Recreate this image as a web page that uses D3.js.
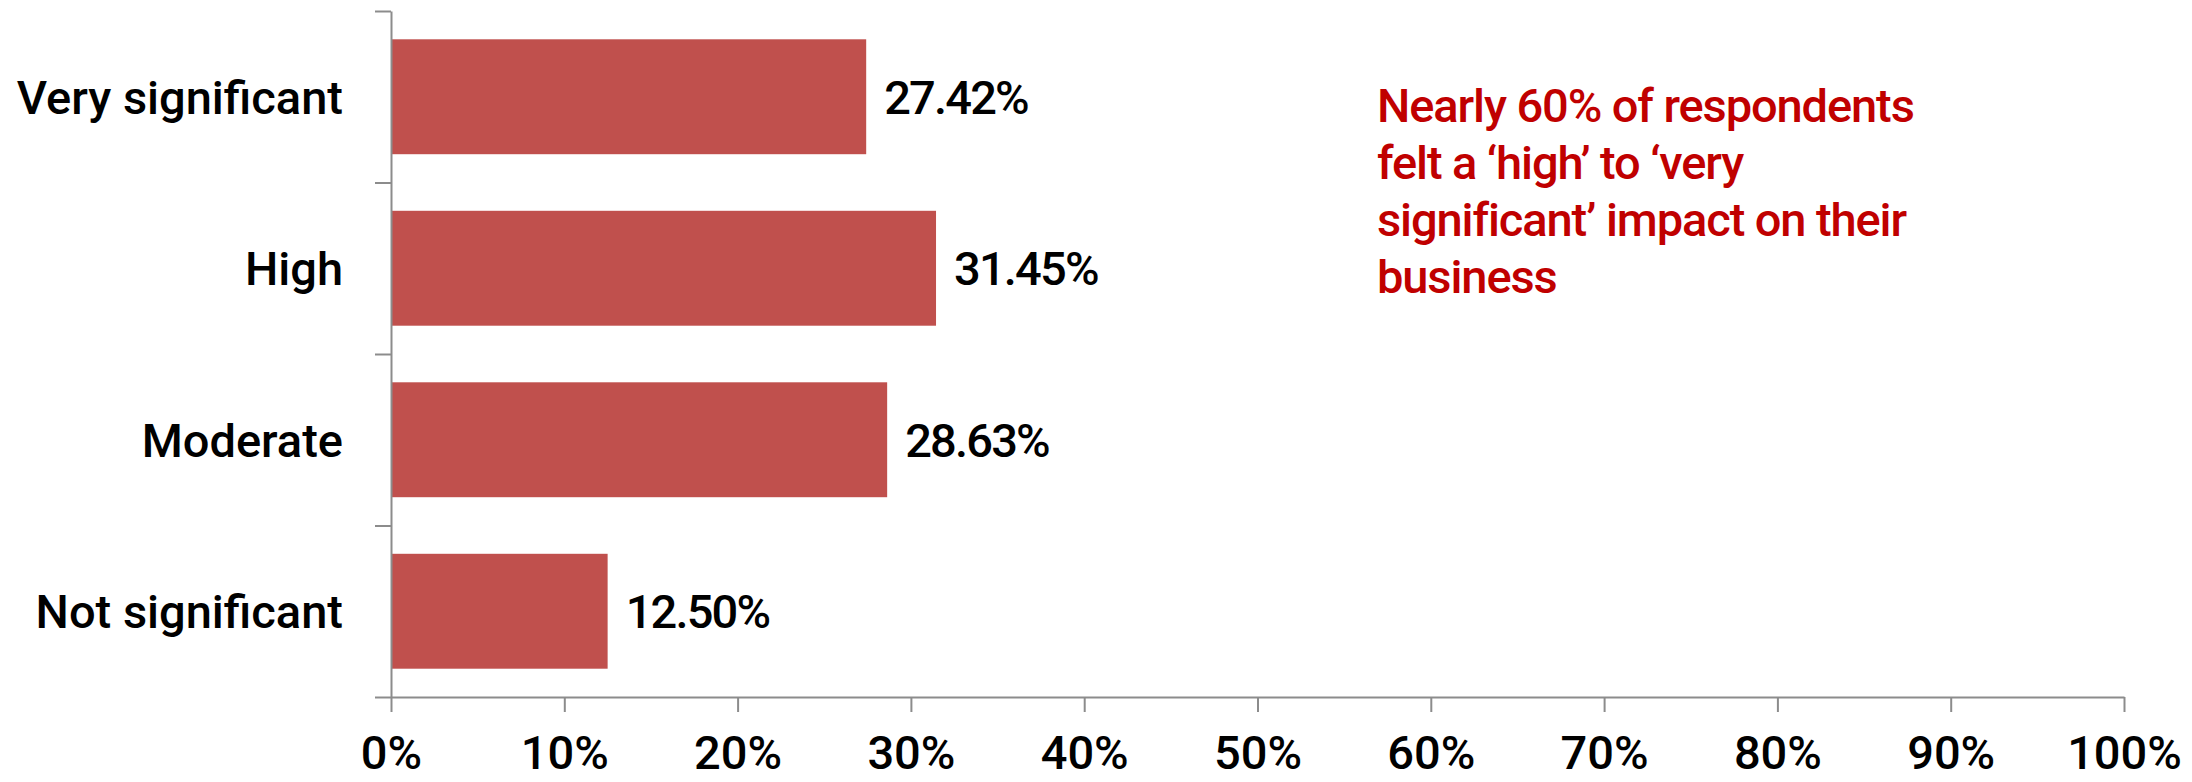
<!DOCTYPE html>
<html>
<head>
<meta charset="utf-8">
<script src="https://cdn.jsdelivr.net/npm/d3@7"></script>
<style>
  html, body { margin: 0; padding: 0; background: #ffffff; }
  svg { display: block; }
  .lbl { font-family: Roboto, "Liberation Sans", sans-serif; font-weight: 500; }
</style>
</head>
<body>
<svg id="chart" width="2192" height="782"></svg>
<script>
// Impact ratings and the share of respondents choosing each one (%)
const categories = ["Very significant", "High", "Moderate", "Not significant"];
const shares = [27.42, 31.45, 28.63, 12.50];
const xTickValues = [0, 10, 20, 30, 40, 50, 60, 70, 80, 90, 100];
const noteLines = [
  "Nearly 60% of respondents",
  "felt a \u2018high\u2019 to \u2018very",
  "significant\u2019 impact on their",
  "business"
];

const W = 2192, H = 782;
const plot = { left: 391, right: 2124, top: 11, bottom: 697 };
const fontSize = 47;
const axisColor = "#8c8c8c";
const barColor = "#c0504d";
const noteColor = "#c00000";

const svg = d3.select("#chart");

const x = d3.scaleLinear().domain([0, 100]).range([plot.left, plot.right]);
const y = d3.scaleBand()
  .domain(categories)
  .range([plot.top, plot.bottom])
  .paddingInner(0.33)
  .paddingOuter(0.165);

// category separators on the vertical axis
const ySep = d3.scaleLinear().domain([0, categories.length]).range([plot.bottom, plot.top]);

// bars
svg.append("g").selectAll("rect")
  .data(categories)
  .join("rect")
  .attr("x", x(0))
  .attr("y", d => y(d))
  .attr("width", (d, i) => x(shares[i]) - x(0))
  .attr("height", y.bandwidth())
  .attr("fill", barColor);

// vertical axis with ticks between categories
const yAxisG = svg.append("g")
  .attr("transform", `translate(${plot.left},0)`)
  .call(d3.axisLeft(ySep)
    .tickValues(d3.range(categories.length + 1))
    .tickSize(16)
    .tickSizeOuter(0)
    .tickFormat(""));
yAxisG.select(".domain").attr("stroke", axisColor).attr("stroke-width", 2);
yAxisG.selectAll(".tick line").attr("stroke", axisColor).attr("stroke-width", 2);

// horizontal axis
const xAxisG = svg.append("g")
  .attr("transform", `translate(0,${plot.bottom})`)
  .call(d3.axisBottom(x)
    .tickValues(xTickValues)
    .tickSize(15)
    .tickSizeOuter(0)
    .tickFormat(d => d + "%"));
xAxisG.select(".domain").attr("stroke", axisColor).attr("stroke-width", 2);
xAxisG.selectAll(".tick line").attr("stroke", axisColor).attr("stroke-width", 2);
xAxisG.selectAll(".tick text")
  .attr("class", "lbl")
  .attr("y", 72)
  .attr("dy", 0)
  .attr("fill", "#000")
  .style("font-size", fontSize + "px");

// category labels
svg.append("g").selectAll("text")
  .data(categories)
  .join("text")
  .attr("class", "lbl")
  .attr("x", plot.left - 48)
  .attr("y", d => y(d) + y.bandwidth() / 2)
  .attr("dy", "0.36em")
  .attr("text-anchor", "end")
  .attr("fill", "#000")
  .style("font-size", fontSize + "px")
  .text(d => d);

// value labels
svg.append("g").selectAll("text")
  .data(categories)
  .join("text")
  .attr("class", "lbl")
  .attr("x", (d, i) => x(shares[i]) + 18)
  .attr("y", d => y(d) + y.bandwidth() / 2)
  .attr("dy", "0.36em")
  .attr("fill", "#000")
  .style("font-size", fontSize + "px")
  .style("letter-spacing", "-1.8px")
  .text((d, i) => shares[i].toFixed(2) + "%");

// callout text
svg.append("text")
  .attr("class", "lbl")
  .attr("x", 1377)
  .attr("y", 122)
  .attr("fill", noteColor)
  .style("font-size", fontSize + "px")
  .style("letter-spacing", "-1.1px")
  .selectAll("tspan")
  .data(noteLines)
  .join("tspan")
  .attr("x", 1377)
  .attr("dy", (d, i) => i === 0 ? 0 : 57)
  .text(d => d);
</script>
</body>
</html>
